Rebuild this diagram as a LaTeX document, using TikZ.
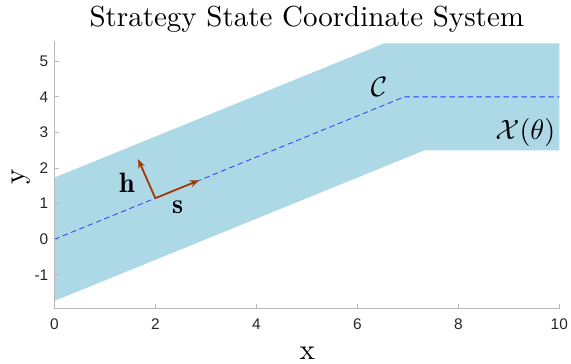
\documentclass[tikz,border=0pt]{standalone}
\usepackage{fontspec}
\newfontfamily\tickfont{Liberation Sans}
\usetikzlibrary{arrows.meta}
\definecolor{bandblue}{rgb}{0.678,0.847,0.902}
\definecolor{axgray}{rgb}{0.72,0.72,0.72}
\definecolor{ticktext}{rgb}{0.15,0.15,0.15}
\definecolor{arrowbrown}{rgb}{0.64,0.22,0}
\definecolor{lineblue}{rgb}{0.15,0.25,1}
\begin{document}
\begin{tikzpicture}[x=50.5pt,y=35.6pt,
  axisline/.style={draw=axgray,line width=0.9pt},
  ticklab/.style={font=\tickfont\fontsize{15.4}{18}\selectfont,text=ticktext,inner sep=0pt},
  vecarrow/.style={draw=arrowbrown,line width=1.8pt,-{Stealth[length=9pt,width=7pt]}},
  mathlab/.style={font=\fontsize{10}{12}\selectfont,scale=2.8,inner sep=0pt,anchor=base},
  biglab/.style={font=\fontsize{10}{12}\selectfont,scale=2.9,inner sep=0pt},
  centerline/.style={draw=lineblue,line width=0.8pt,dash pattern=on 5.5pt off 3.5pt}]
\useasboundingbox (-1.0752,-3.5028) rectangle (10.2317,6.7219);
% band
\fill[bandblue] (0,1.732) -- (6.528,5.5) -- (10,5.5) -- (10,2.5) -- (7.330,2.5) -- (0,-1.732) -- cycle;
% center line
\coordinate (c0) at (0,0);
\coordinate (c1) at (6.928,4);
\coordinate (c2) at (10,4);
\draw[centerline] (c0) -- (c1) -- (c2);
% axes
\coordinate (o) at (0,-1.95);
\coordinate (xe) at (10,-1.95);
\coordinate (ye) at (0,5.57);
\draw[axisline] (ye) -- (o) -- (xe);
\foreach \x in {0,2,4,6,8,10}{
  \draw[axisline] (\x,-1.95) -- (\x,-1.81);
  \node[ticklab,anchor=center] (xt\x) at (\x,-2.374) {\x};
}
\foreach \y in {-1,0,1,2,3,4,5}{
  \draw[axisline] (0,\y) -- (0.099,\y);
  \node[ticklab,anchor=east] (yt\y) at (-0.115,\y) {\y};
}
% axis labels and title
\node[biglab,anchor=base] (title) at (5,5.99) {Strategy State Coordinate System};
\node[biglab,anchor=base] (xlab) at (5.01,-3.371) {x};
\node[biglab,rotate=90] (ylab) at (-0.659,1.75) {y};
% vectors
\coordinate (b) at (2,1.1547);
\coordinate (stip) at (2.866,1.655);
\coordinate (htip) at (1.66,2.25);
\draw[vecarrow] (b) -- (stip);
\draw[vecarrow] (b) -- (htip);
\node[mathlab] (hlab) at (1.44,1.309) {$\mathbf{h}$};
\node[mathlab] (slab) at (2.44,0.730) {$\mathbf{s}$};
\node[mathlab] (clab) at (6.43,4.01) {$\mathcal{C}$};
\node[mathlab] (xlabel) at (9.327,2.798) {$\mathcal{X}(\theta)$};
\end{tikzpicture}
\end{document}
